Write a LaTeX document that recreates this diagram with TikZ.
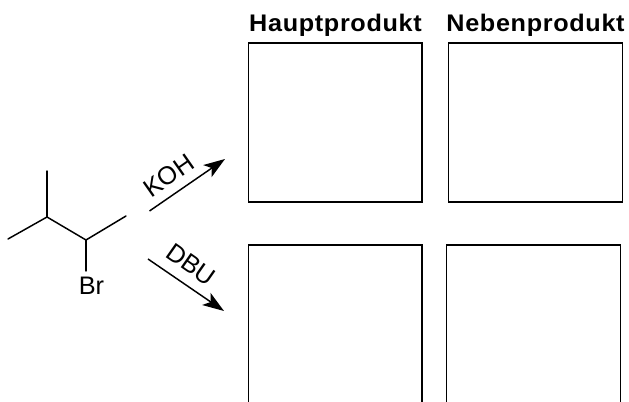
\documentclass[tikz,border=0pt]{standalone}
\usepackage{fontspec}
\setmainfont{Liberation Sans}
\newfontfamily\headfont[FakeStretch=1.05,LetterSpace=2.8,BoldFont={Liberation Sans Bold}]{Liberation Sans}
\usetikzlibrary{arrows.meta}
\tikzset{
  answerbox/.style={draw=black,line width=1.2pt,rectangle,anchor=north west,inner sep=0pt},
  heading/.style={font=\headfont\bfseries\fontsize{18}{20}\selectfont,inner sep=0pt,anchor=base},
  bond/.style={line width=1.1pt,line cap=round},
  reagent/.style={font=\fontsize{19}{20}\selectfont,inner sep=0pt},
  rxn/.style={line width=1.1pt,-{Stealth[length=16pt,width=11pt,inset=4pt]}}
}
\begin{document}
\begin{tikzpicture}[x=0.75pt,y=-0.75pt]
\path[use as bounding box] (0,0) rectangle (629,402);
\clip (0,0) rectangle (629,402);
\fill[white] (0,0) rectangle (629,402);
\node[heading] (h1) at (335.5,31.5) {Hauptprodukt};
\node[heading] (h2) at (535.5,31.5) {Nebenprodukt};
\node[answerbox,minimum width=130.2pt,minimum height=119.4pt] (b1) at (247.6,42) {};
\node[answerbox,minimum width=130.6pt,minimum height=119.4pt] (b2) at (447.6,42) {};
\node[answerbox,minimum width=130.2pt,minimum height=150pt] (b3) at (247.6,244) {};
\node[answerbox,minimum width=130.6pt,minimum height=150pt] (b4) at (445.6,244) {};
\coordinate (c1) at (47,171);
\coordinate (c2) at (47,217);
\coordinate (c3) at (8,239);
\coordinate (c4) at (86,240);
\coordinate (c5) at (126,216);
\node[reagent] (br) at (91.5,286) {Br};
\draw[bond] (c1) -- (c2);
\draw[bond] (c3) -- (c2) -- (c4) -- (c5);
\draw[bond] (c4) -- (86,271);
\coordinate (k1) at (149.5,211);
\coordinate (k2) at (225,159);
\coordinate (d1) at (148,259);
\coordinate (d2) at (224,311);
\draw[rxn] (k1) -- (k2);
\draw[rxn] (d1) -- (d2);
\node[reagent,rotate=35] (koh) at (168.5,175.5) {KOH};
\node[reagent,rotate=-35] (dbu) at (191,264.5) {DBU};
\end{tikzpicture}
\end{document}
